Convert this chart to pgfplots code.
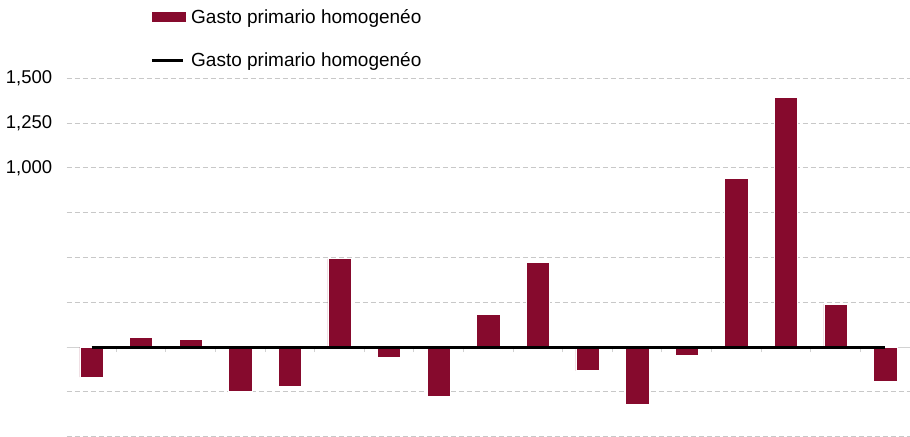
\documentclass[border=0pt]{standalone}
\usepackage{pgfplots}
\pgfplotsset{compat=1.18}
\usepackage{fontspec}
\setmainfont{Liberation Sans}
\definecolor{barred}{RGB}{134,10,45}
\definecolor{gridgray}{RGB}{200,200,200}
\definecolor{axgray}{RGB}{210,210,210}
\begin{document}
\begin{tikzpicture}
\begin{axis}[
  at={(0,0)}, anchor=south west,
  set layers,
  scale only axis,
  width=843.3bp, height=358.4bp,
  xmin=-0.5, xmax=16.5,
  ymin=-500, ymax=1500,
  axis x line=middle,
  axis y line*=left,
  x axis line style={-, draw=axgray, line width=1bp},
  y axis line style={draw=none},
  xtick={-0.5,0.5,...,16.5},
  xticklabels={},
  x tick style={draw=axgray, line width=1bp},
  xtick align=outside,
  major tick length=5bp,
  ytick={-500,-250,0,250,500,750,1000,1250,1500},
  yticklabels={,,,,,,{1,000},{1,250},{1,500}},
  y tick style={draw=none},
  ymajorgrids,
  major grid style={draw=gridgray, line width=1bp, dash pattern=on 5bp off 3bp},
  yticklabel style={font=\fontsize{18.5bp}{22bp}\selectfont, xshift=-11bp},
  /pgf/number format/assume math mode=true,
  legend style={at={(0.0987,1.198)}, anchor=north west, draw=none, fill=none,
    font=\fontsize{19bp}{22bp}\selectfont, row sep=24bp, inner sep=0pt,
    /tikz/every odd column/.append style={column sep=4bp}},
  legend cell align=left,
]
\addplot[ybar, bar width=23.3bp, fill=barred, draw=white, line width=0.6bp,
  legend image code/.code={\fill[barred] (0bp,-4.5bp) rectangle (33bp,4.5bp);}]
  coordinates {
  (0,-167) (1,54) (2,41) (3,-247) (4,-218) (5,493) (6,-59) (7,-275) (8,182)
  (9,471) (10,-132) (11,-318) (12,-45) (13,940) (14,1393) (15,240) (16,-190)
  };
\addlegendentry{Gasto primario homogenéo}
\addplot[black, line width=3bp, no marks,
  legend image code/.code={\draw[black, line width=3.5bp] (0bp,0bp) -- (31bp,0bp);}]
  coordinates {
  (0,0) (1,0) (2,0) (3,0) (4,0) (5,0) (6,0) (7,0) (8,0)
  (9,0) (10,0) (11,0) (12,0) (13,0) (14,0) (15,0) (16,0)
  };
\addlegendentry{Gasto primario homogenéo}
\end{axis}
\pgfresetboundingbox
\useasboundingbox (-66.7bp,-0.3bp) rectangle (843.3bp,436.7bp);
\end{tikzpicture}
\end{document}
